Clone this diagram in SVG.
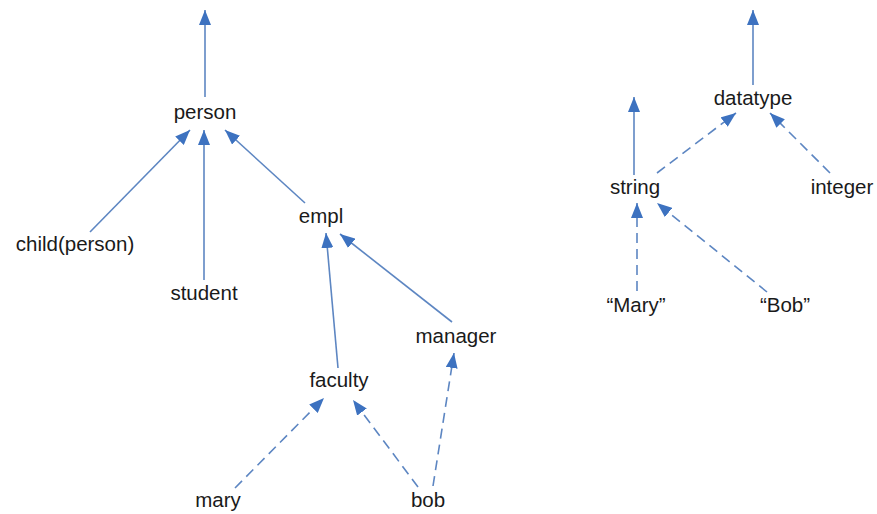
<svg xmlns="http://www.w3.org/2000/svg" width="877" height="514" viewBox="0 0 877 514">
<style>
text{font-family:"Liberation Sans",Arial,sans-serif;font-size:20.5px;fill:#1a1a1a;text-anchor:middle}
.e{stroke:#5d86c2;stroke-width:1.6;fill:none;marker-end:url(#ah)}
.d{stroke-dasharray:10,6}
</style>
<defs>
<marker id="ah" markerUnits="userSpaceOnUse" markerWidth="16" markerHeight="12" refX="15" refY="6" orient="auto">
<path d="M0,0 L15,6 L0,12 Z" fill="#3d72c0"/>
</marker>
</defs>
<rect width="877" height="514" fill="#fff"/>
<g id="connectors">
<line class="e" x1="205" y1="97" x2="205" y2="10"/>
<line class="e" x1="90" y1="232" x2="190" y2="130"/>
<line class="e" x1="204" y1="280" x2="204" y2="130"/>
<line class="e" x1="305" y1="203" x2="225" y2="130"/>
<line class="e" x1="338" y1="368" x2="326" y2="233"/>
<line class="e" x1="452" y1="322" x2="340" y2="234"/>
<line class="e d" x1="235" y1="488" x2="324" y2="398"/>
<line class="e d" x1="418" y1="487" x2="353" y2="400"/>
<line class="e d" x1="433" y1="486" x2="454" y2="353"/>
<line class="e" x1="753" y1="85" x2="753" y2="10"/>
<line class="e" x1="634" y1="175" x2="634" y2="97"/>
<line class="e d" x1="657" y1="173" x2="736" y2="113"/>
<line class="e d" x1="830" y1="173" x2="770" y2="113"/>
<line class="e d" x1="637" y1="291" x2="637" y2="203"/>
<line class="e d" x1="767" y1="292" x2="657" y2="203"/>
</g>
<g id="person"><text x="205" y="119">person</text></g>
<g id="child"><text x="75" y="251">child(person)</text></g>
<g id="student"><text x="204" y="300">student</text></g>
<g id="empl"><text x="321" y="223">empl</text></g>
<g id="manager"><text x="456" y="343">manager</text></g>
<g id="faculty"><text x="339" y="387">faculty</text></g>
<g id="mary"><text x="218" y="507">mary</text></g>
<g id="bob"><text x="428" y="507">bob</text></g>
<g id="datatype"><text x="753" y="105">datatype</text></g>
<g id="string"><text x="635" y="194">string</text></g>
<g id="integer"><text x="842" y="194">integer</text></g>
<g id="Mary"><text x="636" y="312">“Mary”</text></g>
<g id="Bob"><text x="785" y="312">“Bob”</text></g>
</svg>
